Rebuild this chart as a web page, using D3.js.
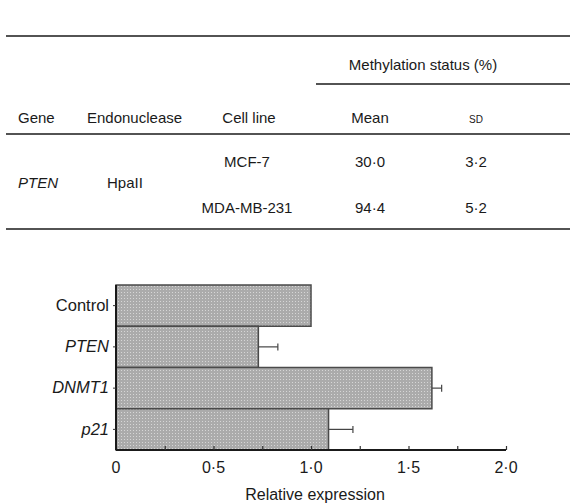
<!DOCTYPE html>
<html>
<head>
<meta charset="utf-8">
<script src="https://cdn.jsdelivr.net/npm/d3@7"></script>
<style>
  html, body { margin: 0; padding: 0; background: #fff; }
  svg { display: block; font-family: "Liberation Sans", Arial, Helvetica, sans-serif; }
</style>
</head>
<body>
<svg id="chart" width="570" height="503"></svg>
<script>
// ---- Table data ----
const tableHeaders = ["Gene", "Endonuclease", "Cell line", "Mean", "SD"];
const groupHeader = "Methylation status (%)";
const geneName = "PTEN";
const endonuclease = "HpaII";
const cellLines = ["MCF-7", "MDA-MB-231"];
const methMeans = ["30·0", "94·4"];
const methSDs = ["3·2", "5·2"];

// ---- Bar chart data ----
const categories = ["Control", "PTEN", "DNMT1", "p21"];
const italicCats = [false, true, true, true];
const values = [1.0, 0.73, 1.62, 1.09];
const errors = [0, 0.10, 0.05, 0.125];
const tickValues = [0, 0.25, 0.5, 0.75, 1.0, 1.25, 1.5, 1.75, 2.0];
const tickLabels = {0: "0", 0.5: "0·5", 1: "1·0", 1.5: "1·5", 2: "2·0"};
const xTitle = "Relative expression";

const svg = d3.select("#chart");
const ink = "#1a1a1a";

// ---------- Table ----------
const tbl = svg.append("g").attr("font-size", 15).attr("fill", ink);
const hline = (x1, x2, y, w) => tbl.append("line").attr("x1", x1).attr("x2", x2)
  .attr("y1", y).attr("y2", y).attr("stroke", ink).attr("stroke-width", w);
hline(6, 570, 36, 1.6);
hline(316, 570, 84, 1.4);
hline(6, 570, 134, 1.6);
hline(6, 570, 229, 1.6);

tbl.append("text").attr("x", 423).attr("y", 70).attr("text-anchor", "middle").text(groupHeader);

const colX = [18, 87, 249, 370, 476];
const colAnchor = ["start", "start", "middle", "middle", "middle"];
tableHeaders.forEach((h, i) => {
  const t = tbl.append("text").attr("x", colX[i]).attr("y", 123)
    .attr("text-anchor", colAnchor[i]).text(h);
  if (h === "SD") t.attr("font-size", 10);
});

tbl.append("text").attr("x", 18).attr("y", 188).attr("font-style", "italic").text(geneName);
tbl.append("text").attr("x", 107).attr("y", 188).text(endonuclease);
const rowY = [167, 213];
cellLines.forEach((c, i) => {
  tbl.append("text").attr("x", 247).attr("y", rowY[i]).attr("text-anchor", "middle").text(c);
  tbl.append("text").attr("x", 370).attr("y", rowY[i]).attr("text-anchor", "middle").text(methMeans[i]);
  tbl.append("text").attr("x", 476).attr("y", rowY[i]).attr("text-anchor", "middle").text(methSDs[i]);
});

// ---------- Bar chart ----------
const defs = svg.append("defs");
const pat = defs.append("pattern").attr("id", "dots").attr("patternUnits", "userSpaceOnUse")
  .attr("width", 3).attr("height", 3);
pat.append("rect").attr("width", 3).attr("height", 3).attr("fill", "#ababab");
pat.append("rect").attr("x", 1).attr("y", 1).attr("width", 1).attr("height", 1).attr("fill", "#d6d6d6");

const x = d3.scaleLinear().domain([0, 2]).range([116, 506]);
const y = d3.scaleBand().domain(categories).range([285, 450]).padding(0);

const plot = svg.append("g");

plot.selectAll("rect.bar").data(categories).join("rect")
  .attr("class", "bar")
  .attr("x", x(0))
  .attr("y", d => y(d))
  .attr("width", (d, i) => x(values[i]) - x(0))
  .attr("height", y.bandwidth())
  .attr("fill", "url(#dots)")
  .attr("stroke", "#4a4a4a")
  .attr("stroke-width", 1.5);

// error bars
categories.forEach((c, i) => {
  if (!errors[i]) return;
  const cy = y(c) + y.bandwidth() / 2;
  plot.append("line").attr("x1", x(values[i])).attr("x2", x(values[i] + errors[i]))
    .attr("y1", cy).attr("y2", cy).attr("stroke", "#444").attr("stroke-width", 1.2);
  plot.append("line").attr("x1", x(values[i] + errors[i])).attr("x2", x(values[i] + errors[i]))
    .attr("y1", cy - 3.5).attr("y2", cy + 3.5).attr("stroke", "#444").attr("stroke-width", 1.2);
});

// x axis
const xAxis = d3.axisBottom(x).tickValues(tickValues).tickSize(-4).tickPadding(0)
  .tickFormat(() => "");
const gx = svg.append("g").attr("transform", "translate(0,450)").call(xAxis);
gx.select(".domain").attr("stroke", ink).attr("stroke-width", 2).attr("d", `M${x(0)},0H${x(2)}`);
gx.selectAll(".tick line").attr("stroke", "#333").attr("stroke-width", 1.2);

svg.append("g").selectAll("text").data(tickValues.filter(v => tickLabels[v] !== undefined)).join("text")
  .attr("x", d => x(d)).attr("y", 473).attr("text-anchor", "middle")
  .attr("font-size", 16).attr("fill", ink).text(d => tickLabels[d]);

svg.append("text").attr("x", x(1) + 4).attr("y", 500).attr("text-anchor", "middle")
  .attr("font-size", 16).attr("fill", ink).text(xTitle);

// y axis
const yAxis = d3.axisLeft(y).tickSize(3).tickPadding(4);
const gy = svg.append("g").attr("transform", `translate(${x(0)},0)`).call(yAxis);
gy.select(".domain").attr("stroke", ink).attr("stroke-width", 2).attr("d", `M0,${y.range()[0]}V${y.range()[1]}`);
gy.selectAll(".tick line").attr("stroke", "#333");
gy.selectAll(".tick text").attr("font-size", 16.5).attr("fill", ink)
  .attr("font-family", "'Liberation Sans', Arial, sans-serif")
  .attr("font-style", (d, i) => italicCats[i] ? "italic" : "normal");
</script>
</body>
</html>
